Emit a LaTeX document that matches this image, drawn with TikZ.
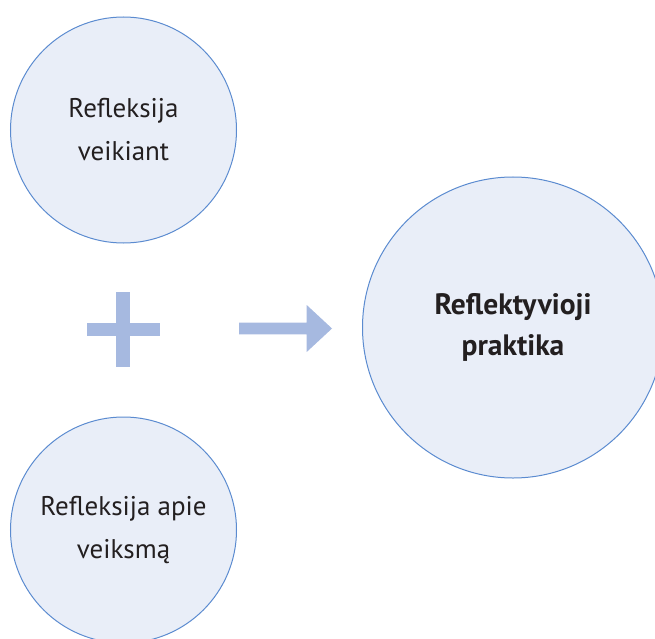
\documentclass[tikz,border=0pt]{standalone}
\usepackage{fontspec}
\setmainfont{PT Sans}
\definecolor{ringfill}{HTML}{E9EEF8}
\definecolor{ringline}{HTML}{5B8BD0}
\definecolor{markfill}{HTML}{A6B9E0}
\definecolor{inktext}{HTML}{231F20}
\begin{document}
\begin{tikzpicture}[x=1bp,y=-1bp,
  ring/.style={circle, draw=ringline, fill=ringfill, line width=1bp,
    inner sep=0pt, align=center, text=inktext},
  smallring/.style={ring, minimum size=226bp,
    font=\fontsize{27bp}{43bp}\selectfont},
  bigring/.style={ring, minimum size=301bp,
    font=\fontsize{29.5bp}{41bp}\selectfont\bfseries},
  glyphfill/.style={fill=markfill, draw=none}]
\useasboundingbox (0,0) rectangle (655,639);

% two kinds of reflection
\node[smallring] (inaction) at (123.5,130) {Refleksija\\veikiant};
\node[smallring] (onaction) at (123.5,530) {Refleksija apie\\veiksmą};

% result
\node[bigring] (practice) at (513,327.5) {Reflektyvioji\\praktika};

% plus sign between the two small circles
\coordinate (plus) at (123,329);
\fill[glyphfill] ([xshift=-36.5bp,yshift=-6.5bp]plus) rectangle ([xshift=36.5bp,yshift=6.5bp]plus);
\fill[glyphfill] ([xshift=-7bp,yshift=-37.5bp]plus) rectangle ([xshift=7bp,yshift=37.5bp]plus);

% block arrow towards the result
\coordinate (tail) at (239,328.5);
\coordinate (tip) at (332,328.5);
\fill[glyphfill] (239,322.7) -- (306.7,322.7) -- (306.7,305) -- (tip)
  -- (306.7,352) -- (306.7,334.3) -- (239,334.3) -- cycle;
\end{tikzpicture}
\end{document}
